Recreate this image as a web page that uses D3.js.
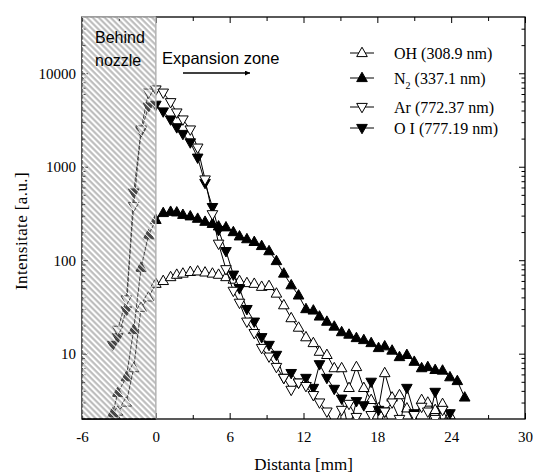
<!DOCTYPE html>
<html>
<head>
<meta charset="utf-8">
<script src="https://cdn.jsdelivr.net/npm/d3@7"></script>
<style>
body { margin: 0; background: #fff; }
svg { display: block; }
.tk text { font-family: "Liberation Serif", "Times New Roman", serif; font-size: 15px; fill: #000; }
.tk path.domain { display: none; }
.tk line { stroke: #000; stroke-width: 1; }
</style>
</head>
<body>
<div id="chart"></div>
<script>
// distances along the jet [mm]
var dist = [-3.5, -3.1, -2.4, -1.8, -1.2, -0.6, 0, 0.6, 1.2, 1.7,
    2.2, 2.8, 3.4, 4.0, 4.6, 5.1, 5.7, 6.3, 6.8, 7.4,
    8.0, 8.6, 9.2, 9.8, 10.4, 11.0, 11.6, 12.2, 12.8, 13.3,
    13.9, 14.5, 15.1, 15.7, 16.3, 16.9, 17.5, 18.1, 18.6, 19.2,
    19.8, 20.4, 21.0, 21.6, 22.1, 22.7, 23.3, 23.9, 24.5, 25.1];

// intensities [a.u.], null = no point
var ohVal = [null, 2.4, 3.0, 7, 31, 40, 56, 60, 66, 70,
    72, 75, 76, 74, 72, 70, 66, 62, 60, 57,
    56, 52, 53, 44, 33, 24, 19, 15, 13, 10.5,
    9.7, 7, 7, 4.3, 7.2, 4.3, 3.2, 2.6, 6.2, 3.4,
    3.6, 2.6, 1.8, 3.2, 3.0, 2.5, 2.9, 2.2, null, null];
var n2Val = [2.3, 3.8, 5.6, 18, 83, 185, 270, 320, 330, 325,
    306, 295, 278, 258, 245, 230, 225, 200, 180, 168,
    157, 142, 125, 98, 72, 54, 42, 30, 29, 25,
    22, 19.5, 17, 16, 14.7, 14, 13, 11.5, 12, 10.8,
    9.2, 9.7, 8.2, 7.0, 7.2, 6.7, 6.6, 5.6, 5.1, 3.4];
var arVal = [null, 18, 38, 380, 2500, 6200, 6700, 6200, 4900, 3800,
    3200, 2500, 1600, 730, 310, 150, 80, 47, 35, 22,
    16.6, 11.5, 9.3, 7.2, 5.5, 4.1, 4.9, 4.5, 3.6, 3.0,
    2.4, 1.7, 2.5, 2.9, 2.1, 1.6, 2.2, 1.5, 2.4, 3.0,
    2.0, 1.6, 2.2, 2.7, 2.4, 2.0, 2.5, 1.8, null, null];
var oiVal = [12.4, 15, 29, 530, 2400, 4400, 4600, 3900, 3200, 2640,
    2240, 1820, 1250, 670, 370, 210, 125, 70, 50, 30,
    22, 15, 12.4, 9.7, 5.5, 6.2, 4.9, 5.5, 4.3, 7.7,
    5.5, 4.2, 3.3, 1.5, 3.1, 2.8, 5.0, 2.5, 2.4, 1.5,
    1.6, 4.3, 2.3, 1.5, 1.7, 3.9, 1.6, 2.3, null, null];

var xMajor = [-6, 0, 6, 12, 18, 24, 30];
var xMinor = [-3, 3, 9, 15, 21, 27];
var yMajor = [10, 100, 1000, 10000];

// legend order (drawing order is OH, N2, OI, Ar)
var series = [
    {key: "OH", label: "OH (308.9 nm)", values: ohVal, up: true, filled: false},
    {key: "N2", label: "N", sub: "2", rest: " (337.1 nm)", values: n2Val, up: true, filled: true},
    {key: "Ar", label: "Ar (772.37 nm)", values: arVal, up: false, filled: false},
    {key: "OI", label: "O I (777.19 nm)", values: oiVal, up: false, filled: true}
];
var drawOrder = ["OH", "N2", "OI", "Ar"];

var margin = {top: 17, right: 8, bottom: 54, left: 82};
var width = 533 - margin.left - margin.right;
var height = 473 - margin.top - margin.bottom;

var svg = d3.select("#chart").append("svg")
    .attr("width", 533)
    .attr("height", 473);

var defs = svg.append("defs");
defs.append("clipPath").attr("id", "plotclip")
    .append("rect").attr("width", width).attr("height", height);

// diagonal hatch: white stripe + see-through gray stripe
var pat = defs.append("pattern")
    .attr("id", "hatch")
    .attr("patternUnits", "userSpaceOnUse")
    .attr("width", 4.2).attr("height", 4.2)
    .attr("patternTransform", "rotate(-45)");
pat.append("rect").attr("x", 0).attr("y", 0).attr("width", 1.2).attr("height", 4.2)
    .attr("fill", "#fff");
pat.append("rect").attr("x", 2.0).attr("y", 0).attr("width", 2.0).attr("height", 4.2)
    .attr("fill", "#888").attr("fill-opacity", 0.6);

var g = svg.append("g")
    .attr("transform", "translate(" + margin.left + "," + margin.top + ")");

var x = d3.scaleLinear().domain([-6, 30]).range([0, width]);
var y = d3.scaleLog().domain([2, 40000]).range([height, 0]);

// minor log ticks
var yMinor = [];
[1, 10, 100, 1000, 10000].forEach(function(dec) {
    for (var m = 2; m <= 9; m++) {
        var v = dec * m;
        if (v > 2 && v < 40000 && yMajor.indexOf(v) < 0) yMinor.push(v);
    }
});

function fmt(d) { return String(d); }

// axes, ticks pointing inward
g.append("g").attr("class", "tk")
    .attr("transform", "translate(0," + height + ")")
    .call(d3.axisBottom(x).tickValues(xMajor).tickFormat(fmt).tickSize(-6).tickPadding(12));
g.append("g").attr("class", "tk")
    .attr("transform", "translate(0," + height + ")")
    .call(d3.axisBottom(x).tickValues(xMinor).tickFormat("").tickSize(-4));
g.append("g").attr("class", "tk")
    .call(d3.axisTop(x).tickValues(xMajor).tickFormat("").tickSize(-6));
g.append("g").attr("class", "tk")
    .call(d3.axisTop(x).tickValues(xMinor).tickFormat("").tickSize(-4));

g.append("g").attr("class", "tk")
    .call(d3.axisLeft(y).tickValues(yMajor).tickFormat(fmt).tickSize(-6).tickPadding(6));
g.append("g").attr("class", "tk")
    .call(d3.axisLeft(y).tickValues(yMinor).tickFormat("").tickSize(-3.5));
g.append("g").attr("class", "tk")
    .attr("transform", "translate(" + width + ",0)")
    .call(d3.axisRight(y).tickValues(yMajor).tickFormat("").tickSize(-6));
g.append("g").attr("class", "tk")
    .attr("transform", "translate(" + width + ",0)")
    .call(d3.axisRight(y).tickValues(yMinor).tickFormat("").tickSize(-3.5));

g.append("rect")
    .attr("width", width).attr("height", height)
    .attr("fill", "none").attr("stroke", "#000").attr("stroke-width", 1.3);

// markers
function triPath(up) {
    return up ? "M0,-5.8L5.3,3.6L-5.3,3.6Z" : "M0,5.8L5.3,-3.6L-5.3,-3.6Z";
}

var line = d3.line()
    .defined(function(d) { return d.v !== null; })
    .x(function(d) { return x(d.d); })
    .y(function(d) { return y(d.v); });

var plot = g.append("g").attr("clip-path", "url(#plotclip)");

drawOrder.forEach(function(key) {
    var s = series.filter(function(t) { return t.key === key; })[0];
    var pts = dist.map(function(d, i) { return {d: d, v: s.values[i]}; });
    plot.append("path")
        .datum(pts)
        .attr("d", line)
        .attr("fill", "none")
        .attr("stroke", "#000")
        .attr("stroke-width", 1);
    plot.selectAll(null)
        .data(pts.filter(function(p) { return p.v !== null; }))
        .enter().append("path")
        .attr("transform", function(p) { return "translate(" + x(p.d) + "," + y(p.v) + ")"; })
        .attr("d", triPath(s.up))
        .attr("fill", s.filled ? "#000" : "#fff")
        .attr("stroke", "#000")
        .attr("stroke-width", 1);
});

// hatched region behind the nozzle
g.append("rect")
    .attr("x", x(-6)).attr("y", 0)
    .attr("width", x(0) - x(-6)).attr("height", height)
    .attr("fill", "url(#hatch)");
g.append("line")
    .attr("x1", x(0)).attr("x2", x(0)).attr("y1", 0).attr("y2", height)
    .attr("stroke", "#b4b4b4").attr("stroke-width", 1.5);
g.append("line")
    .attr("x1", x(-6)).attr("x2", x(0)).attr("y1", 0).attr("y2", 0)
    .attr("stroke", "#b4b4b4").attr("stroke-width", 1.5);
g.append("line")
    .attr("x1", x(-6)).attr("x2", x(0)).attr("y1", height).attr("y2", height)
    .attr("stroke", "#000").attr("stroke-width", 1.3);

// annotations
var sans = "'Liberation Sans', Arial, sans-serif";
g.append("text").attr("x", 13).attr("y", 26).text("Behind")
    .style("font-family", sans).style("font-size", "16px");
g.append("text").attr("x", 13).attr("y", 49).text("nozzle")
    .style("font-family", sans).style("font-size", "16px");
g.append("text").attr("x", 80).attr("y", 47).text("Expansion zone")
    .style("font-family", sans).style("font-size", "16.5px");

defs.append("marker")
    .attr("id", "arrowhead")
    .attr("viewBox", "0 0 10 10")
    .attr("refX", 10).attr("refY", 5)
    .attr("markerWidth", 9).attr("markerHeight", 5)
    .attr("markerUnits", "userSpaceOnUse")
    .attr("orient", "auto")
    .append("path").attr("d", "M0,0L10,5L0,10Z").attr("fill", "#000");
g.append("line")
    .attr("x1", 101).attr("x2", 168).attr("y1", 56).attr("y2", 56)
    .attr("stroke", "#000").attr("stroke-width", 1.5)
    .attr("marker-end", "url(#arrowhead)");

// legend
var serif = "'Liberation Serif', 'Times New Roman', serif";
var legRowY = [36, 61, 90, 111];
var leg = g.append("g").attr("transform", "translate(268,0)");
series.forEach(function(s, i) {
    var row = leg.append("g").attr("transform", "translate(0," + legRowY[i] + ")");
    row.append("line").attr("x1", 0).attr("x2", 24)
        .attr("stroke", "#000").attr("stroke-width", 1);
    row.append("path").attr("transform", "translate(12,0)")
        .attr("d", triPath(s.up))
        .attr("fill", s.filled ? "#000" : "#fff")
        .attr("stroke", "#000").attr("stroke-width", 1);
    var t = row.append("text").attr("x", 44).attr("y", 5.5)
        .style("font-family", serif).style("font-size", "16px");
    t.append("tspan").text(s.label);
    if (s.sub) {
        t.append("tspan").attr("dy", 5).style("font-size", "10px").text(s.sub);
        t.append("tspan").attr("dy", -5).text(s.rest);
    }
});

// axis titles
svg.append("text")
    .attr("x", margin.left + x(12))
    .attr("y", 470)
    .attr("text-anchor", "middle")
    .style("font-family", serif).style("font-size", "17px")
    .text("Distanta [mm]");
svg.append("text")
    .attr("transform", "translate(27,231) rotate(-90)")
    .attr("text-anchor", "middle")
    .style("font-family", serif).style("font-size", "17px")
    .style("letter-spacing", "0.4px")
    .text("Intensitate [a.u.]");
</script>
</body>
</html>
